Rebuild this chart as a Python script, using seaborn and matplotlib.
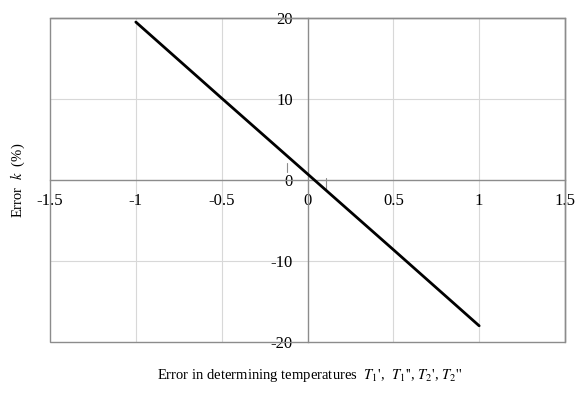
import matplotlib
matplotlib.use("Agg")
import matplotlib.pyplot as plt
import seaborn as sns
import pandas as pd

# values
temp_error = [-1.0, -0.5, 0.0, 0.5, 1.0]
k_error = [19.5, 10.1, 0.75, -8.6, -18.0]

x_ticks = [-1.5, -1, -0.5, 0, 0.5, 1, 1.5]
x_labels = ["-1.5", "-1", "-0.5", "0", "0.5", "1", "1.5"]
y_ticks = [-20, -10, 0, 10, 20]
y_labels = ["-20", "-10", "0", "10", "20"]

sns.set_style("white")
plt.rcParams['font.family'] = ['Liberation Serif', 'DejaVu Serif']
plt.rcParams['mathtext.fontset'] = 'stix'
plt.rcParams['text.color'] = 'black'
plt.rcParams['xtick.color'] = 'black'
plt.rcParams['ytick.color'] = 'black'

df = pd.DataFrame({'t': temp_error, 'k': k_error})

fig = plt.figure(figsize=(5.75, 3.94), dpi=100)
ax = fig.add_axes([50 / 575, 1 - 342 / 394, 515 / 575, 324 / 394])

# light grid
for gx in [-1, -0.5, 0.5, 1]:
    ax.axvline(gx, color='#d8d8d8', lw=0.8, zorder=0)
for gy in [-10, 10]:
    ax.axhline(gy, color='#d8d8d8', lw=0.8, zorder=0)

# the two little stray tick strokes near the origin
ax.plot([-0.12, -0.12], [1.0, 2.1], color='#8c8c8c', lw=0.8, zorder=1)
ax.plot([0.11, 0.11], [-1.2, 0.25], color='#8c8c8c', lw=0.8, zorder=1)

sns.lineplot(data=df, x='t', y='k', ax=ax, color='black', lw=2.0, zorder=5)

ax.set_xlim(-1.5, 1.5)
ax.set_ylim(-20, 20)
ax.set_xticks(x_ticks)
ax.set_xticklabels(x_labels)
ax.set_yticks(y_ticks)
ax.set_yticklabels(y_labels)
ax.tick_params(axis='x', length=0, labelsize=12, pad=9, labelcolor='black')
ax.tick_params(axis='y', length=0, labelsize=12, pad=10.5, labelcolor='black')

# axes through the origin, plus a full outer frame
ax.spines['left'].set_position('zero')
ax.spines['bottom'].set_position('zero')
for s in ['left', 'bottom']:
    ax.spines[s].set_color('#8c8c8c')
    ax.spines[s].set_linewidth(1.0)
for s in ['top', 'right']:
    ax.spines[s].set_visible(True)
    ax.spines[s].set_color('#8c8c8c')
    ax.spines[s].set_linewidth(1.0)
ax.add_patch(plt.Rectangle((0, 0), 1, 1, transform=ax.transAxes, fill=False,
                           edgecolor='#8c8c8c', lw=1.0, clip_on=False, zorder=1))

ax.set_xlabel('')
ax.set_ylabel('')

fig.text(18 / 575, 1 - 180 / 394, 'Error  $k$  (%)', rotation=90,
         ha='center', va='center', fontsize=10.5)
fig.text(310 / 575, 1 - 375 / 394,
         "Error in determining temperatures  $T_1$',  $T_1$'', $T_2$', $T_2$''",
         ha='center', va='center', fontsize=10.5)

plt.savefig('out.png', dpi=100)
